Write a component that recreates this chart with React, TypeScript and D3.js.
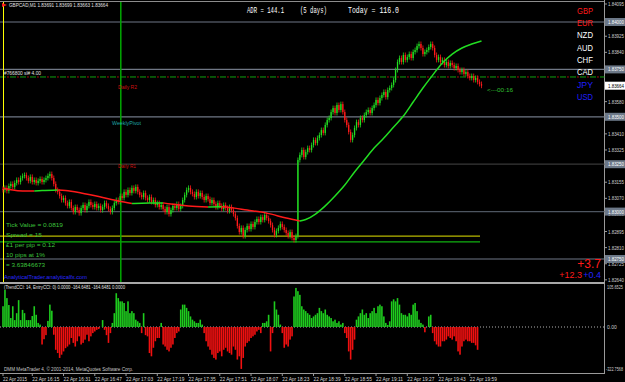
import React, { useEffect } from 'react';
import * as d3 from 'd3';

const W = 625;
const H = 382;

// ---------- data ----------
const firstOpen = 1.8312;
const closes = [
  1.83114, 1.83125, 1.83109, 1.83135, 1.83146, 1.8313, 1.83151, 1.83167, 1.83156, 1.83177, 1.83188,
  1.83193, 1.83177, 1.83162, 1.83183, 1.83156, 1.83167,
  1.83151, 1.83162, 1.83172, 1.83156, 1.83167, 1.83177, 1.83188,
  1.83198, 1.83177, 1.83146, 1.83114,
  1.83104, 1.83082, 1.83061, 1.83072, 1.83045,
  1.8303, 1.83051, 1.83019, 1.82998, 1.83024,
  1.83008, 1.82992, 1.83019, 1.83035, 1.83008,
  1.8303, 1.83051, 1.83035, 1.83024, 1.8304,
  1.83019, 1.8303, 1.83008, 1.83024, 1.83045, 1.8303, 1.83014,
  1.82998, 1.83019, 1.83045, 1.83061, 1.83051,
  1.83082, 1.83072, 1.83104, 1.83088, 1.83114, 1.83098, 1.83125, 1.83109,
  1.8313, 1.83104, 1.83088, 1.83077, 1.83098, 1.83072, 1.83061,
  1.83077, 1.83051, 1.83061, 1.83035, 1.83045, 1.83024,
  1.83035, 1.83014, 1.82998, 1.83024, 1.82987, 1.83008,
  1.8303, 1.83019, 1.8304, 1.83014, 1.8303,
  1.83061, 1.83088, 1.83114, 1.83125, 1.83104,
  1.83093, 1.83077, 1.83104, 1.83082, 1.83098,
  1.83077, 1.83061, 1.83082, 1.83066, 1.83045,
  1.83061, 1.8304, 1.83024, 1.83045, 1.8303,
  1.83014, 1.83035, 1.83019, 1.83003, 1.83024,
  1.83008, 1.82987, 1.82966, 1.82924,
  1.82892, 1.82914, 1.82871, 1.82903,
  1.82924, 1.82908, 1.82935, 1.82919, 1.82945,
  1.82961, 1.82945, 1.82971, 1.82956, 1.82982,
  1.82966, 1.8295, 1.82929, 1.82903, 1.82877,
  1.82898, 1.82914, 1.82935, 1.82919, 1.82903,
  1.82887, 1.82871, 1.82892, 1.82861, 1.8285, 1.82871,
  1.83272,
  1.83299, 1.83325, 1.83288, 1.83314, 1.83335, 1.83325,
  1.83351, 1.83378, 1.83362, 1.83388, 1.83404,
  1.8343, 1.83415, 1.83457, 1.83483, 1.83494,
  1.83525, 1.83546, 1.8352, 1.83562, 1.83536,
  1.83567, 1.83525, 1.83483, 1.83457,
  1.8342, 1.83378, 1.83404,
  1.83441, 1.83472, 1.83457, 1.83494,
  1.83483, 1.83509, 1.83525, 1.83536, 1.8352,
  1.83546, 1.83562, 1.83589, 1.83573, 1.83599,
  1.83615, 1.83631, 1.83604, 1.83641, 1.83652,
  1.83668, 1.83694, 1.83747, 1.83789,
  1.8381, 1.83789, 1.83826, 1.838, 1.83815,
  1.83831, 1.8381, 1.83842, 1.83852, 1.83873, 1.83884,
  1.83863, 1.83831, 1.83842, 1.83852,
  1.83868, 1.83884, 1.83863,
  1.83826, 1.838, 1.83815, 1.83789,
  1.838, 1.83773, 1.83789, 1.83768, 1.83784,
  1.83773, 1.83757, 1.83768, 1.83747, 1.83736,
  1.83747, 1.83726, 1.83736, 1.83715, 1.83705,
  1.83715, 1.83694, 1.83705, 1.83684, 1.83673, 1.83664,
];

const cciValues = [
  51, 91, 71, 54, 22, 51, 17, 34, 66, 17, 42, 34, 17, 17, 17, 27, 51, 30, 10, 6,
  -43, -30, -20,
  15, 55, 40,
  -19, -56, -64, -76, -68, -60, -52, -48, -43, -27, -39, -48, -35, -23, -43, -39, -31, -19, -35, -23, -15, -11, -7, -5,
  0, 17, -7, -20, -39, -15,
  10, 34, 83, 71, 63, 63, 59, 39, 63, 34, 39, 34, 18, 14, 10,
  -15, 34, -20,
  -23, -64, -72, -51, -35, -27, -27, 10, -43, -48, -56, -60, -51, -43, -27, -15, -11,
  43, 55, 55, 47, 39, 26, 18, 14, 10, 10, 18, 6,
  -15, -35, -48, -56, -68, -76, -80, -64, -60, -72, -56, -51, -60, -64, -68, -48, -56, -80, -72, -103, -76, -48, -39, -35, -27, -23, -19, -11, -7, -15,
  10, 10, 14, 30, -60, -15, 63, 43, 30, 6,
  -15, -51, -43, -48, -31, -23,
  75, 96, 88, 79, 51, 43, 39, 34, 30, 22, 26, 30, 34, 47, 39, 34, 43, 30, 26, 22, 14, 18, 10, 14, 6, 10,
  -15, -27, -60, -80, -56, -31,
  18, 26, 34, 43, 30, 34, 22, 34, 39, 47, 34, 51, 55, 51, 26, 10, 5, 14,
  63, 68, 63, 71, 55, 34, 30, 30, 26, 34, 30, 55, 59, 39, 18, 10, 6,
  -13, 0, 26, 30,
  -15, -35, -43, -48, -48, -35, -35, -31, -23, -27, -31, -23, -35, -60, -68, -48, -35, -31, -35, -35, -39, -39, -45, -56,
];

const maIdx = [0, 5, 10, 16, 20, 28, 32, 40, 50, 59, 66, 75, 82, 86, 95, 105, 112, 116, 125, 135, 145, 152, 155, 160, 165, 170, 175, 180, 185, 190, 195, 200, 205, 210, 215, 220, 225, 230, 235, 240, 245];
const maVal = [1.83125, 1.83114, 1.83109, 1.83108, 1.83111, 1.83114, 1.83111, 1.83098, 1.83077, 1.83056, 1.83043, 1.83045, 1.83046, 1.8304, 1.8303, 1.83024, 1.83025, 1.83022, 1.83008, 1.82992, 1.82966, 1.8295, 1.82958, 1.82987, 1.8303, 1.83082, 1.8314, 1.83209, 1.83272, 1.83335, 1.83388, 1.83446, 1.83504, 1.83578, 1.83652, 1.8372, 1.83784, 1.83831, 1.83863, 1.83884, 1.839];

const levels = [1.84, 1.8375, 1.835, 1.8325, 1.83, 1.8275];
const levelLabels = ['1.84000', '1.83750', '1.83500', '1.83250', '1.83000', '1.82750'];
const axisPrices = [1.84095, 1.83925, 1.8384, 1.8358, 1.8341, 1.83325, 1.83155, 1.8307, 1.82985, 1.82895, 1.8281, 1.82725, 1.8264];
const axisLabels = ['1.84095', '1.83925', '1.83840', '1.83580', '1.83410', '1.83325', '1.83155', '1.83070', '1.82985', '1.82895', '1.82810', '1.82725', '1.82640'];
const currentPrice = 1.83664;
const orderLevel = 1.8371;
const yellowLevel = 1.82871;
const greenLevel = 1.8284;

const timeIdx = [0, 15, 31, 47, 63, 79, 95, 111, 127, 143, 159, 175, 191, 207, 223, 239];
const timeLabels = ['22 Apr 2015', '22 Apr 16:15', '22 Apr 16:31', '22 Apr 16:47', '22 Apr 17:03', '22 Apr 17:19', '22 Apr 17:35', '22 Apr 17:51', '22 Apr 18:07', '22 Apr 18:23', '22 Apr 18:39', '22 Apr 18:55', '22 Apr 19:11', '22 Apr 19:27', '22 Apr 19:43', '22 Apr 19:59'];

const currencies = ['GBP', 'EUR', 'NZD', 'AUD', 'CHF', 'CAD', 'JPY', 'USD'];
const infoLines = ['Tick Value = 0.0819', 'Spread = 15', '£1 per pip = 0.12', '10 pips at 1%', '= 3.63846673'];
const pivotNames = ['Daily R2', 'WeeklyPivot', 'Daily R1'];
const pivotPrices = [1.83657, 1.83467, 1.8324];

// ---------- styles ----------
const GREEN = '#22dd22';
const RED = '#ff1a1a';
const HGREEN = '#1ecb1e';
const HRED = '#f01010';
const FONT = '"Liberation Sans", Arial, sans-serif';
const MONO = '"Liberation Mono", "Courier New", monospace';
const currencyColors = ['#ff1a1a', '#ff1a1a', '#ffffff', '#ffffff', '#ffffff', '#ffffff', '#1f1fff', '#1f1fff'];
const currencyY = [14, 26, 38, 51, 63, 75, 88, 100];
const levelColors = ['#6f7785', '#6f7785', '#6f7785', '#383838', '#4d5560', '#6f7785'];
const infoY = [227, 236.5, 247, 256.5, 266.5];
const infoW = [57, 36, 49, 39, 39];
const pivotColors = ['#d01010', '#1fa8a8', '#d01010'];
const pivotX = [118, 112, 118];
const pivotW = [19, 29, 18];

export default function App() {
  useEffect(() => {
    document.body.style.margin = '0';
    document.body.style.background = '#000';
  }, []);

  const AX = 604.5;
  const x = d3.scaleLinear().domain([0, 245]).range([3, 481.5]);
  const y = d3.scaleLinear().domain([1.8275, 1.84]).range([259, 22]);
  const yc = d3.scaleLinear().domain([-105.6525, 105.6525]).range([370, 284]);

  // moving average runs by direction
  const runs: { color: string; pts: number[] }[] = [];
  for (let k = 0; k < maIdx.length - 1; k++) {
    const c = maVal[k + 1] > maVal[k] ? GREEN : RED;
    const last = runs[runs.length - 1];
    if (last && last.color === c) last.pts.push(k + 1);
    else runs.push({ color: c, pts: [k, k + 1] });
  }
  const maLine = d3
    .line<number>()
    .x((k) => x(maIdx[k]))
    .y((k) => y(maVal[k]))
    .curve(d3.curveMonotoneX);

  const small = { fontFamily: FONT, fontSize: 5.5 } as const;

  return (
    <svg width={W} height={H} style={{ position: 'absolute', left: 0, top: 0, background: '#000' }}>
      <rect x={0} y={0} width={W} height={H} fill="#000" />

      {/* frame */}
      <line x1={0} x2={AX} y1={1.5} y2={1.5} stroke="#8c8c8c" />
      <line x1={AX} x2={AX} y1={0} y2={374} stroke="#9a9a9a" />

      {/* round level lines */}
      {levels.map((lv, i) => (
        <line key={'lv' + i} x1={0} x2={AX} y1={y(lv)} y2={y(lv)} stroke={levelColors[i]} strokeWidth={1.2} />
      ))}

      {/* yellow / green level lines */}
      <line x1={0} x2={480} y1={y(yellowLevel)} y2={y(yellowLevel)} stroke="#b8b800" strokeWidth={1.2} />
      <line x1={0} x2={480} y1={y(greenLevel)} y2={y(greenLevel)} stroke="#10b010" strokeWidth={1.2} />

      {/* order line dash-dot */}
      <line x1={0} x2={AX} y1={y(orderLevel)} y2={y(orderLevel)} stroke="#10a010" strokeDasharray="6 4" />
      <line x1={0} x2={AX} y1={y(orderLevel)} y2={y(orderLevel)} stroke="#d01010" strokeDasharray="1.5 8.5" strokeDashoffset={-7.2} />

      {/* vertical lines */}
      <line x1={3.5} x2={3.5} y1={2} y2={282} stroke="#ffff00" />
      <line x1={120.8} x2={120.8} y1={2} y2={282} stroke="#00a800" strokeWidth={1.5} />

      {/* candles */}
      {closes.map((c, i) => {
        const o = i === 0 ? firstOpen : closes[i - 1];
        const col = c >= o ? GREEN : RED;
        const top = y(Math.max(o, c));
        const bot = y(Math.min(o, c));
        const cx = x(i);
        return (
          <g key={'c' + i}>
            <line x1={cx} x2={cx} y1={top - 2.5} y2={bot + 2.5} stroke={col} strokeWidth={0.8} />
            <rect x={cx - 0.65} y={top} width={1.3} height={Math.max(1, bot - top)} fill={col} />
          </g>
        );
      })}

      {/* moving average */}
      {runs.map((r, i) => (
        <path key={'ma' + i} d={maLine(r.pts) || ''} fill="none" stroke={r.color} strokeWidth={1.5} />
      ))}

      {/* header */}
      <polygon points="2,3 7,5 2,7" fill="#ff2020" />
      <text x={9} y={7} {...small} fill="#e0e0e0" textLength={99} lengthAdjust="spacingAndGlyphs">
        GBPCAD,M1  1.83691 1.83699 1.83663 1.83664
      </text>
      <text x={247} y={13} fontFamily={MONO} fontSize={8.5} fill="#ffffff" textLength={37} lengthAdjust="spacingAndGlyphs">ADR = 144.1</text>
      <text x={300} y={13} fontFamily={MONO} fontSize={8.5} fill="#ffffff" textLength={27} lengthAdjust="spacingAndGlyphs">(5 days)</text>
      <text x={348} y={13} fontFamily={MONO} fontSize={8.5} fill="#ffffff" textLength={51} lengthAdjust="spacingAndGlyphs">Today = 116.0</text>

      {/* currency list */}
      {currencies.map((c, i) => (
        <text key={'cur' + i} x={577} y={currencyY[i]} fontFamily={FONT} fontSize={9} fill={currencyColors[i]} textLength={16} lengthAdjust="spacingAndGlyphs">
          {c}
        </text>
      ))}

      {/* order label */}
      <text x={4} y={75} {...small} fontSize={5} fill="#e0e0e0" textLength={37} lengthAdjust="spacingAndGlyphs">#766800 sl# 4.00</text>
      <text x={487} y={92} {...small} fill="#30c030" textLength={26} lengthAdjust="spacingAndGlyphs">{'<---00:16'}</text>

      {/* pivot labels */}
      {pivotNames.map((n, i) => (
        <text key={'pv' + i} x={pivotX[i]} y={y(pivotPrices[i]) + 2} {...small} fontSize={6} fill={pivotColors[i]} textLength={pivotW[i]} lengthAdjust="spacingAndGlyphs">
          {n}
        </text>
      ))}

      {/* info block */}
      {infoLines.map((t, i) => (
        <text key={'inf' + i} x={6} y={infoY[i]} {...small} fontSize={6} fill="#3cc03c" textLength={infoW[i]} lengthAdjust="spacingAndGlyphs">
          {t}
        </text>
      ))}
      <text x={4} y={278.5} {...small} fontSize={6} fill="#2a2aff" textLength={83} lengthAdjust="spacingAndGlyphs">AnalyticalTrader.analyticalfx.com</text>

      {/* pip counters */}
      <text x={601} y={268} fontFamily={FONT} fontSize={12} fill="#ff1a1a" textAnchor="end">+3.7</text>
      <text x={582} y={278} fontFamily={FONT} fontSize={9} fill="#ff1a1a" textAnchor="end">+12.3</text>
      <text x={601} y={278} fontFamily={FONT} fontSize={9} fill="#2222ff" textAnchor="end">+0.4</text>

      {/* right price axis */}
      {axisPrices.map((p, i) => (
        <g key={'ap' + i}>
          <line x1={AX} x2={AX + 2.5} y1={y(p)} y2={y(p)} stroke="#9a9a9a" />
          <text x={608} y={y(p) + 2} {...small} fontSize={5} fill="#cfcfcf" textLength={16} lengthAdjust="spacingAndGlyphs">
            {axisLabels[i]}
          </text>
        </g>
      ))}
      {levels.map((lv, i) => (
        <g key={'lb' + i}>
          <rect x={605} y={y(lv) - 4} width={20} height={8} fill="#6c7888" />
          <text x={608} y={y(lv) + 2} {...small} fontSize={5} fill="#ffffff" textLength={16} lengthAdjust="spacingAndGlyphs">
            {levelLabels[i]}
          </text>
        </g>
      ))}
      <rect x={605} y={y(currentPrice) - 4} width={20} height={8} fill="#ffffff" />
      <text x={608} y={y(currentPrice) + 2} {...small} fontSize={5} fill="#000" textLength={16} lengthAdjust="spacingAndGlyphs">
        {currentPrice.toFixed(5)}
      </text>

      {/* separator */}
      <rect x={0} y={282} width={AX} height={2} fill="#a8a8a8" />

      {/* indicator panel */}
      <line x1={0} x2={AX} y1={yc(0)} y2={yc(0)} stroke="#b0b0b0" strokeDasharray="1 2" />
      {cciValues.map((v, i) => (
        <rect
          key={'h' + i}
          x={x(i) - 0.8}
          y={Math.min(yc(v), yc(0))}
          width={1.6}
          height={Math.abs(yc(v) - yc(0))}
          fill={v >= 0 ? HGREEN : HRED}
        />
      ))}
      <text x={4} y={289} {...small} fill="#e0e0e0" textLength={121} lengthAdjust="spacingAndGlyphs">
        (TrendCCI: 14, EntryCCI: 0)  0.0000 -164.6481 -164.6481 0.0000
      </text>
      <text x={4} y={370.5} {...small} fill="#c8c8c8" textLength={129} lengthAdjust="spacingAndGlyphs">
        DMM MetaTrader 4, © 2001-2014, MetaQuotes Software Corp.
      </text>
      <text x={607} y={289} {...small} fontSize={4.5} fill="#cfcfcf" textLength={16} lengthAdjust="spacingAndGlyphs">105.6525</text>
      <text x={607} y={329} {...small} fontSize={5} fill="#cfcfcf">0.00</text>
      <text x={606} y={370.5} {...small} fontSize={4.5} fill="#cfcfcf" textLength={17} lengthAdjust="spacingAndGlyphs">-322.7568</text>

      {/* time axis */}
      <line x1={0} x2={AX} y1={373.5} y2={373.5} stroke="#9a9a9a" />
      {timeIdx.map((ti, i) => (
        <g key={'t' + i}>
          <line x1={x(ti)} x2={x(ti)} y1={373.5} y2={376} stroke="#9a9a9a" />
          <text x={x(ti)} y={380.5} {...small} fill="#d8d8d8" textLength={i === 0 ? 24 : 27} lengthAdjust="spacingAndGlyphs">
            {timeLabels[i]}
          </text>
        </g>
      ))}
    </svg>
  );
}
